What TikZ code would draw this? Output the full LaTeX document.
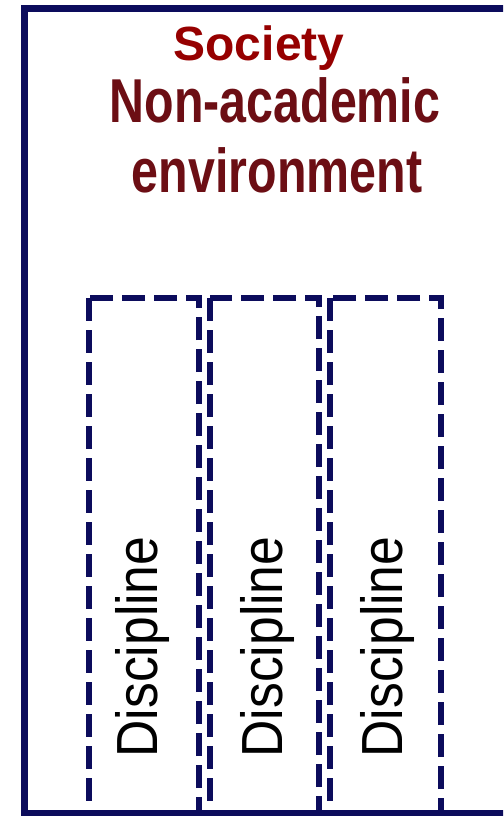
\documentclass[tikz,border=0pt]{standalone}
\usepackage{graphicx}
\usepackage{fontspec}
\setmainfont{Liberation Sans}
\usepackage{tikz}
\usepackage{xcolor}
\definecolor{framenavy}{RGB}{12,12,92}
\definecolor{societyred}{RGB}{150,0,0}
\definecolor{envmaroon}{RGB}{108,14,20}
\tikzset{
    outerframe/.style={draw=framenavy, line width=7pt},
    discbox/.style={draw=framenavy, line width=6pt, dash pattern=on 23pt off 9pt},
    disclabel/.style={font=\fontsize{58}{58}\selectfont, text=black, inner sep=0pt},
    titletext/.style={text=envmaroon, inner sep=0pt, font=\bfseries\fontsize{62}{62}\selectfont}
}

\begin{document}
\begin{tikzpicture}[x=1pt, y=1pt]
    \useasboundingbox (0,-816) rectangle (503,0);
    \clip (0,-816) rectangle (503,0);
    \fill[white] (0,-816) rectangle (503,0);
    % discipline columns
    \draw[discbox] (89,-298) rectangle (199,-840);
    \draw[discbox] (210,-298) rectangle (319,-840);
    \draw[discbox] (330,-298) rectangle (441,-840);
    \draw[outerframe] (24.5,-9) rectangle (540,-813);
    % labels
    \node[anchor=base, inner sep=0pt, text=societyred, font=\bfseries\fontsize{48}{48}\selectfont] (society) at (259,-60) {Society};
    \node[titletext, anchor=base] (nonacad) at (275,-122) {\scalebox{0.78}[1]{Non-academic}};
    \node[titletext, anchor=base] (env) at (277,-192) {\scalebox{0.78}[1]{environment}};
    \node[disclabel, rotate=90, anchor=base] (disc1) at (157,-647) {\scalebox{0.89}[1]{Discipline}};
    \node[disclabel, rotate=90, anchor=base] (disc2) at (282,-647) {\scalebox{0.89}[1]{Discipline}};
    \node[disclabel, rotate=90, anchor=base] (disc3) at (402,-647) {\scalebox{0.89}[1]{Discipline}};
\end{tikzpicture}
\end{document}
